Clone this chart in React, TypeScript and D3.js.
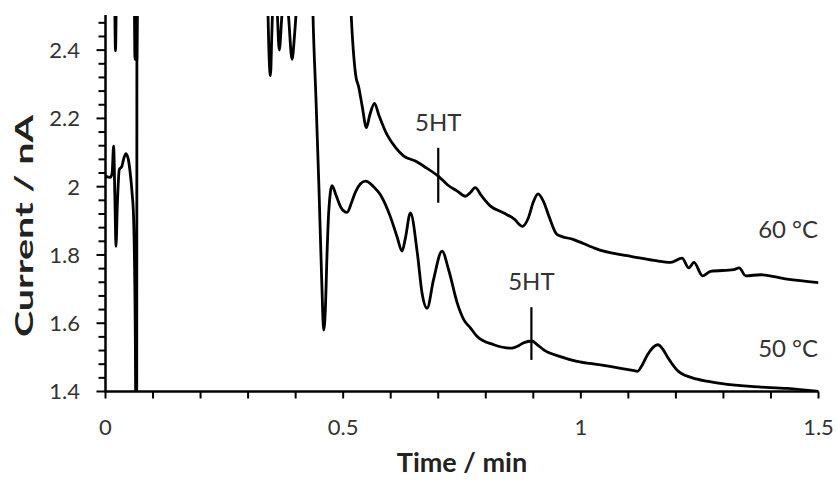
import React from "react";
import * as d3 from "d3";

// ---- data (time in min, current in nA) ----
const time50 = [0.000,0.010,0.014,0.017,0.020,0.022,0.025,0.029,0.0345,0.038,0.043,0.048,0.052,0.056,0.059,0.0625,0.0645,0.0655,0.0665,0.070,0.300,0.338,0.342,0.347,0.350,0.354,0.360,0.3656,0.371,0.377,0.385,0.3924,0.398,0.405,0.420,0.430,0.4366,0.443,0.449,0.455,0.459,0.4625,0.466,0.4695,0.4766,0.485,0.495,0.508,0.518,0.526,0.547,0.564,0.578,0.599,0.613,0.624,0.631,0.6415,0.656,0.666,0.6766,0.690,0.708,0.722,0.740,0.754,0.768,0.782,0.817,0.852,0.870,0.880,0.897,0.910,0.922,0.957,0.992,1.041,1.084,1.112,1.119,1.130,1.140,1.162,1.172,1.182,1.206,1.245,1.294,1.364,1.434,1.500];
const current50 = [2.031,2.027,2.040,2.119,1.950,1.825,1.950,2.050,2.060,2.080,2.097,2.080,2.040,1.980,1.913,1.600,1.200,1.200,3.200,3.200,3.200,3.000,2.500,2.325,2.450,2.600,2.550,2.400,2.500,2.600,2.500,2.373,2.450,2.600,3.000,3.000,2.500,2.250,2.000,1.720,1.580,1.640,1.800,1.923,2.003,1.975,1.940,1.925,1.955,1.985,2.016,2.000,1.977,1.913,1.855,1.811,1.850,1.923,1.806,1.688,1.644,1.727,1.811,1.756,1.659,1.610,1.586,1.561,1.537,1.527,1.535,1.543,1.548,1.535,1.522,1.502,1.488,1.478,1.468,1.461,1.459,1.480,1.507,1.537,1.525,1.502,1.458,1.436,1.424,1.414,1.409,1.400];

const time60 = [0.000,0.015,0.019,0.021,0.023,0.027,0.058,0.0605,0.062,0.066,0.0675,0.070,0.500,0.510,0.517,0.526,0.533,0.540,0.549,0.556,0.566,0.575,0.592,0.610,0.627,0.652,0.675,0.700,0.720,0.740,0.757,0.767,0.778,0.790,0.810,0.838,0.860,0.877,0.890,0.900,0.910,0.922,0.933,0.950,0.985,1.027,1.048,1.084,1.105,1.154,1.189,1.213,1.227,1.238,1.256,1.273,1.322,1.333,1.347,1.378,1.434,1.500];
const current60 = [3.200,3.200,2.600,2.398,2.600,3.200,3.200,2.600,2.373,2.373,2.600,3.200,3.200,2.750,2.500,2.330,2.290,2.236,2.173,2.210,2.244,2.210,2.153,2.115,2.090,2.075,2.055,2.031,2.005,1.987,1.972,1.982,1.997,1.975,1.943,1.923,1.905,1.884,1.910,1.955,1.979,1.955,1.913,1.860,1.845,1.821,1.811,1.801,1.796,1.784,1.778,1.791,1.762,1.778,1.739,1.752,1.757,1.762,1.739,1.742,1.729,1.719];

const seriesLabels = ["50 °C", "60 °C"];
const markerLabel = "5HT";
const markerTimes = [0.896, 0.700];
const markerTop = [1.647, 2.114];
const markerBottom = [1.4925, 1.953];

const xTickValues = d3.range(0, 16).map((i) => i / 10);
const xTickLabels = [0, 0.5, 1, 1.5];
const yTickValues = d3.range(0, 28).map((i) => +(1.4 + i * 0.04).toFixed(2));
const yTickLabels = [1.4, 1.6, 1.8, 2, 2.2, 2.4];
const xTitle = "Time / min";
const yTitle = "Current / nA";

export default function App() {
  const W = 837, H = 480;
  const x0 = 105.5, x1 = 818.5, yBot = 391.5, yTop = 16;
  const x = d3.scaleLinear().domain([0, 1.5]).range([x0, x1]);
  const y = d3.scaleLinear().domain([1.4, 2.5]).range([yBot, yTop]);

  const mk = (ts: number[], vs: number[]) =>
    d3
      .line<[number, number]>()
      .x((d) => x(d[0]))
      .y((d) => y(d[1]))
      .curve(d3.curveMonotoneX)(ts.map((t, i) => [t, vs[i]] as [number, number])) || "";

  const path50 = mk(time50, current50);
  const path60 = mk(time60, current60);

  const font = "Lato, 'Open Sans', sans-serif";
  const tickColor = "#333";

  return (
    <svg width={W} height={H} style={{ position: "absolute", left: 0, top: 0, background: "#fff" }}>
      <defs>
        <clipPath id="plot">
          <rect x={x0} y={yTop} width={x1 - x0} height={yBot - yTop} />
        </clipPath>
      </defs>

      {/* data lines */}
      <g clipPath="url(#plot)" fill="none" stroke="#000" strokeWidth={2.8} strokeLinejoin="round">
        <path d={path50} />
        <path d={path60} />
      </g>

      {/* 5HT markers */}
      {markerTimes.map((t, i) => (
        <g key={i}>
          <line x1={x(t)} x2={x(t)} y1={y(markerTop[i])} y2={y(markerBottom[i])} stroke="#000" strokeWidth={2.2} />
          <text
            x={x(t)}
            y={y(markerTop[i]) - 17}
            textAnchor="middle"
            fontFamily={font}
            fontSize={24}
            fill={tickColor}
          >
            {markerLabel}
          </text>
        </g>
      ))}

      {/* series labels */}
      <text x={x(1.373)} y={y(1.501)} fontFamily={font} fontSize={24} fill={tickColor}>
        {seriesLabels[0]}
      </text>
      <text x={x(1.373)} y={y(1.85)} fontFamily={font} fontSize={24} fill={tickColor}>
        {seriesLabels[1]}
      </text>

      {/* y axis */}
      <line x1={x0} x2={x0} y1={yTop - 1} y2={yBot} stroke="#000" strokeWidth={2.5} />
      {yTickValues.map((v, i) => (
        <line
          key={"yt" + i}
          x1={x0 - (i % 5 === 0 ? 9 : 7)}
          x2={x0}
          y1={y(v)}
          y2={y(v)}
          stroke="#000"
          strokeWidth={2}
        />
      ))}
      {yTickLabels.map((v) => (
        <text
          key={"yl" + v}
          x={80}
          y={y(v)}
          dy="0.36em"
          textAnchor="end"
          fontFamily={font}
          fontSize={22}
          fill={tickColor}
        >
          {String(v)}
        </text>
      ))}

      {/* x axis */}
      <line x1={x0 - 1} x2={x1} y1={yBot} y2={yBot} stroke="#000" strokeWidth={2.5} />
      {xTickValues.map((v, i) => (
        <line key={"xt" + i} x1={x(v)} x2={x(v)} y1={yBot} y2={yBot + 7} stroke="#000" strokeWidth={2} />
      ))}
      {xTickLabels.map((v) => (
        <text
          key={"xl" + v}
          x={x(v)}
          y={435}
          textAnchor="middle"
          fontFamily={font}
          fontSize={22}
          fill={tickColor}
        >
          {String(v)}
        </text>
      ))}

      {/* axis titles */}
      <text
        x={(x0 + x1) / 2}
        y={472}
        textAnchor="middle"
        fontFamily={font}
        fontWeight="bold"
        fontSize={27}
        fill="#222"
      >
        {xTitle}
      </text>
      <text
        transform="translate(33,226) rotate(-90)"
        textAnchor="middle"
        fontFamily={font}
        fontWeight="bold"
        fontSize={25}
        fill="#222"
        textLength={222}
        lengthAdjust="spacingAndGlyphs"
      >
        {yTitle}
      </text>
    </svg>
  );
}
